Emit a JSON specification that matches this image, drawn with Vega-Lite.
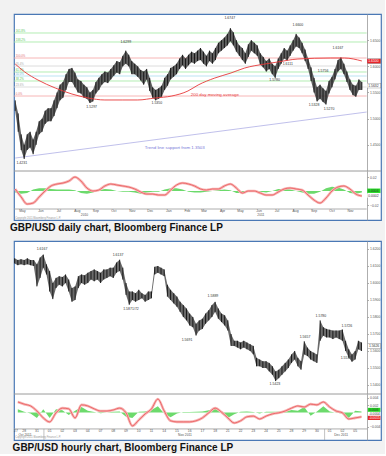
{
"$schema": "https://vega.github.io/schema/vega-lite/v6.json",
"background": "#f2f2f2",
"padding": {"left": 9, "top": 13, "right": 0, "bottom": 0},
"config": {
  "view": {"stroke": "#4a78b5", "strokeWidth": 1.2, "fill": "#ffffff"},
  "font": "Liberation Sans",
  "axis": {"grid": false, "labelFontSize": 3.4, "labelColor": "#555555", "labelFont": "Liberation Sans", "tickSize": 1.5, "tickColor": "#777777", "tickWidth": 0.6, "domainColor": "#999999", "domainWidth": 0.8, "labelPadding": 1, "labelOverlap": false, "labelBound": false, "labelFlush": false, "zindex": 1},
  "text": {"font": "Liberation Sans"}
},
"datasets": {
  "dprice": [
    {"d":"2010-05-03","lo":1.515,"hi":1.535},{"d":"2010-05-08","lo":1.475,"hi":1.51},{"d":"2010-05-13","lo":1.44,"hi":1.47},{"d":"2010-05-18","lo":1.423,"hi":1.45},
    {"d":"2010-05-23","lo":1.44,"hi":1.47},{"d":"2010-05-28","lo":1.445,"hi":1.475},{"d":"2010-06-02","lo":1.432,"hi":1.46},{"d":"2010-06-07","lo":1.45,"hi":1.475},
    {"d":"2010-06-12","lo":1.47,"hi":1.495},{"d":"2010-06-17","lo":1.475,"hi":1.5},{"d":"2010-06-22","lo":1.49,"hi":1.515},{"d":"2010-06-27","lo":1.495,"hi":1.52},
    {"d":"2010-07-02","lo":1.495,"hi":1.52},{"d":"2010-07-07","lo":1.505,"hi":1.535},{"d":"2010-07-12","lo":1.52,"hi":1.55},{"d":"2010-07-17","lo":1.535,"hi":1.565},
    {"d":"2010-07-22","lo":1.54,"hi":1.57},{"d":"2010-07-27","lo":1.555,"hi":1.585},{"d":"2010-08-01","lo":1.57,"hi":1.595},{"d":"2010-08-06","lo":1.57,"hi":1.597},
    {"d":"2010-08-11","lo":1.56,"hi":1.588},{"d":"2010-08-16","lo":1.55,"hi":1.575},{"d":"2010-08-21","lo":1.548,"hi":1.572},{"d":"2010-08-26","lo":1.54,"hi":1.565},
    {"d":"2010-08-31","lo":1.538,"hi":1.56},{"d":"2010-09-05","lo":1.53,"hi":1.55},{"d":"2010-09-10","lo":1.533,"hi":1.555},{"d":"2010-09-15","lo":1.548,"hi":1.57},
    {"d":"2010-09-20","lo":1.555,"hi":1.578},{"d":"2010-09-25","lo":1.565,"hi":1.585},{"d":"2010-09-30","lo":1.57,"hi":1.59},{"d":"2010-10-05","lo":1.568,"hi":1.588},
    {"d":"2010-10-10","lo":1.575,"hi":1.595},{"d":"2010-10-15","lo":1.582,"hi":1.602},{"d":"2010-10-20","lo":1.588,"hi":1.61},{"d":"2010-10-25","lo":1.585,"hi":1.608},
    {"d":"2010-10-30","lo":1.6,"hi":1.62},{"d":"2010-11-04","lo":1.605,"hi":1.63},{"d":"2010-11-09","lo":1.6,"hi":1.622},{"d":"2010-11-14","lo":1.585,"hi":1.61},
    {"d":"2010-11-19","lo":1.585,"hi":1.605},{"d":"2010-11-24","lo":1.58,"hi":1.6},{"d":"2010-11-29","lo":1.573,"hi":1.593},{"d":"2010-12-04","lo":1.565,"hi":1.59},
    {"d":"2010-12-09","lo":1.575,"hi":1.595},{"d":"2010-12-14","lo":1.553,"hi":1.578},{"d":"2010-12-19","lo":1.54,"hi":1.56},{"d":"2010-12-24","lo":1.535,"hi":1.555},
    {"d":"2010-12-29","lo":1.538,"hi":1.558},{"d":"2011-01-03","lo":1.542,"hi":1.563},{"d":"2011-01-08","lo":1.555,"hi":1.578},{"d":"2011-01-13","lo":1.563,"hi":1.585},
    {"d":"2011-01-18","lo":1.575,"hi":1.597},{"d":"2011-01-23","lo":1.58,"hi":1.6},{"d":"2011-01-28","lo":1.585,"hi":1.605},{"d":"2011-02-02","lo":1.595,"hi":1.615},
    {"d":"2011-02-07","lo":1.602,"hi":1.622},{"d":"2011-02-12","lo":1.595,"hi":1.615},{"d":"2011-02-17","lo":1.602,"hi":1.622},{"d":"2011-02-22","lo":1.608,"hi":1.628},
    {"d":"2011-02-27","lo":1.605,"hi":1.625},{"d":"2011-03-04","lo":1.61,"hi":1.63},{"d":"2011-03-09","lo":1.612,"hi":1.635},{"d":"2011-03-14","lo":1.605,"hi":1.628},
    {"d":"2011-03-19","lo":1.6,"hi":1.62},{"d":"2011-03-24","lo":1.61,"hi":1.63},{"d":"2011-03-29","lo":1.605,"hi":1.625},{"d":"2011-04-03","lo":1.612,"hi":1.635},
    {"d":"2011-04-08","lo":1.625,"hi":1.645},{"d":"2011-04-13","lo":1.63,"hi":1.65},{"d":"2011-04-18","lo":1.635,"hi":1.655},{"d":"2011-04-23","lo":1.64,"hi":1.662},
    {"d":"2011-04-28","lo":1.648,"hi":1.673},{"d":"2011-05-03","lo":1.64,"hi":1.665},{"d":"2011-05-08","lo":1.628,"hi":1.65},{"d":"2011-05-13","lo":1.62,"hi":1.64},
    {"d":"2011-05-18","lo":1.612,"hi":1.635},{"d":"2011-05-23","lo":1.605,"hi":1.625},{"d":"2011-05-28","lo":1.618,"hi":1.642},{"d":"2011-06-02","lo":1.63,"hi":1.65},
    {"d":"2011-06-07","lo":1.625,"hi":1.645},{"d":"2011-06-12","lo":1.62,"hi":1.64},{"d":"2011-06-17","lo":1.603,"hi":1.625},{"d":"2011-06-22","lo":1.598,"hi":1.618},
    {"d":"2011-06-27","lo":1.59,"hi":1.61},{"d":"2011-07-02","lo":1.595,"hi":1.615},{"d":"2011-07-07","lo":1.585,"hi":1.605},{"d":"2011-07-12","lo":1.578,"hi":1.6},
    {"d":"2011-07-17","lo":1.595,"hi":1.615},{"d":"2011-07-22","lo":1.605,"hi":1.625},{"d":"2011-07-27","lo":1.615,"hi":1.635},{"d":"2011-08-01","lo":1.611,"hi":1.63},
    {"d":"2011-08-06","lo":1.62,"hi":1.64},{"d":"2011-08-11","lo":1.63,"hi":1.65},{"d":"2011-08-16","lo":1.638,"hi":1.662},{"d":"2011-08-21","lo":1.635,"hi":1.655},
    {"d":"2011-08-26","lo":1.625,"hi":1.645},{"d":"2011-08-31","lo":1.61,"hi":1.632},{"d":"2011-09-05","lo":1.595,"hi":1.615},{"d":"2011-09-10","lo":1.572,"hi":1.598},
    {"d":"2011-09-15","lo":1.55,"hi":1.578},{"d":"2011-09-20","lo":1.533,"hi":1.56},{"d":"2011-09-25","lo":1.538,"hi":1.565},{"d":"2011-09-30","lo":1.532,"hi":1.558},
    {"d":"2011-10-05","lo":1.527,"hi":1.553},{"d":"2011-10-10","lo":1.548,"hi":1.572},{"d":"2011-10-15","lo":1.56,"hi":1.58},{"d":"2011-10-20","lo":1.575,"hi":1.595},
    {"d":"2011-10-25","lo":1.59,"hi":1.612},{"d":"2011-10-30","lo":1.595,"hi":1.617},{"d":"2011-11-04","lo":1.585,"hi":1.605},{"d":"2011-11-09","lo":1.57,"hi":1.59},
    {"d":"2011-11-14","lo":1.555,"hi":1.575},{"d":"2011-11-19","lo":1.545,"hi":1.565},{"d":"2011-11-24","lo":1.542,"hi":1.563},{"d":"2011-11-29","lo":1.555,"hi":1.575},
    {"d":"2011-12-04","lo":1.555,"hi":1.57}
  ],
  "dma": [
    {"d":"2010-05-03","p":1.6045},{"d":"2010-05-19","p":1.5892},{"d":"2010-06-10","p":1.5739},{"d":"2010-07-09","p":1.5586},
    {"d":"2010-08-06","p":1.5471},{"d":"2010-09-02","p":1.5395},{"d":"2010-09-30","p":1.5357},{"d":"2010-10-29","p":1.5357},
    {"d":"2010-11-24","p":1.5357},{"d":"2010-12-23","p":1.5395},{"d":"2011-01-20","p":1.5433},{"d":"2011-02-16","p":1.5529},
    {"d":"2011-03-05","p":1.5643},{"d":"2011-04-02","p":1.5777},{"d":"2011-04-29","p":1.5873},{"d":"2011-05-22","p":1.5968},
    {"d":"2011-06-25","p":1.6045},{"d":"2011-07-16","p":1.6083},{"d":"2011-08-19","p":1.614},{"d":"2011-10-13","p":1.6159},
    {"d":"2011-11-05","p":1.6159},{"d":"2011-12-04","p":1.6102}
  ],
  "fib": [
    {"p":1.6637,"lab":"161.8%","g":"key"},{"p":1.6465,"lab":"138.2%","g":"key"},{"p":1.6159,"lab":"100.0%","g":"base"},
    {"p":1.6006,"lab":"76.4%","g":"minor"},{"p":1.5892,"lab":"61.8%","g":"key"},{"p":1.5815,"lab":"50.0%","g":"mid"},
    {"p":1.572,"lab":"38.2%","g":"key"},{"p":1.5605,"lab":"23.6%","g":"minor"},{"p":1.5433,"lab":"0.0%","g":"base"}
  ],
  "trend": [{"d":"2010-05-03","p":1.4248,"d2":"2011-12-12","p2":1.5127}],
  "dlabels": [
    {"d":"2010-05-14","p":1.4153,"txt":"1.4231"},{"d":"2010-09-08","p":1.5223,"txt":"1.5297"},{"d":"2010-11-04","p":1.6465,"txt":"1.6299"},
    {"d":"2010-12-26","p":1.5299,"txt":"1.5350"},{"d":"2011-04-27","p":1.6924,"txt":"1.6747"},{"d":"2011-08-19","p":1.679,"txt":"1.6600"},
    {"d":"2011-08-02","p":1.6045,"txt":"1.6111"},{"d":"2011-07-11","p":1.5739,"txt":"1.5780"},{"d":"2011-09-30","p":1.5911,"txt":"1.5756"},
    {"d":"2011-09-15","p":1.5261,"txt":"1.5328"},{"d":"2011-10-10","p":1.5185,"txt":"1.5270"},{"d":"2011-10-25","p":1.635,"txt":"1.6167"}
  ],
  "dnotes": [
    {"d":"2011-04-02","p":1.5455,"txt":"200 day moving average","k":"ma"},
    {"d":"2011-01-25","p":1.4439,"txt":"Trend line support from 1.3503","k":"trend"}
  ],
  "dtags": [
    {"p":1.61,"txt":"1.6100","k":"ma"},
    {"p":1.5632,"txt":"1.5632","k":"last"}
  ],
  "dosc": [
    {"d":"2010-05-03","m":0.0029,"h":-0.002},{"d":"2010-05-13","m":-0.0086,"h":-0.004},{"d":"2010-05-23","m":-0.0186,"h":-0.003},
    {"d":"2010-06-02","m":-0.0172,"h":0.002},{"d":"2010-06-12","m":-0.0086,"h":0.004},{"d":"2010-06-22","m":0,"h":0.004},
    {"d":"2010-07-02","m":0.0072,"h":0.003},{"d":"2010-07-12","m":0.01,"h":0.002},{"d":"2010-07-22","m":0.0114,"h":0.002},
    {"d":"2010-08-01","m":0.0143,"h":0.002},{"d":"2010-08-11","m":0.02,"h":0.001},{"d":"2010-08-21","m":0.0143,"h":-0.003},
    {"d":"2010-08-31","m":0.0043,"h":-0.004},{"d":"2010-09-10","m":0,"h":-0.002},{"d":"2010-09-20","m":0.0014,"h":0.001},
    {"d":"2010-09-30","m":0.0072,"h":0.003},{"d":"2010-10-10","m":0.01,"h":0.002},{"d":"2010-10-20","m":0.0086,"h":0},
    {"d":"2010-10-30","m":0.0072,"h":-0.001},{"d":"2010-11-09","m":0.0057,"h":-0.001},{"d":"2010-11-19","m":0.0029,"h":-0.002},
    {"d":"2010-11-29","m":-0.0014,"h":-0.004},{"d":"2010-12-09","m":-0.0043,"h":-0.002},{"d":"2010-12-19","m":-0.0043,"h":-0.001},
    {"d":"2010-12-29","m":-0.0057,"h":-0.001},{"d":"2011-01-08","m":-0.0057,"h":0.002},{"d":"2011-01-18","m":0.0014,"h":0.004},
    {"d":"2011-01-28","m":0.0086,"h":0.004},{"d":"2011-02-07","m":0.0114,"h":0.002},{"d":"2011-02-17","m":0.01,"h":-0.001},
    {"d":"2011-02-27","m":0.0072,"h":-0.002},{"d":"2011-03-09","m":0.0029,"h":-0.002},{"d":"2011-03-19","m":0.0014,"h":-0.001},
    {"d":"2011-03-29","m":0.0029,"h":0},{"d":"2011-04-08","m":0.0029,"h":0.001},{"d":"2011-04-18","m":0.0072,"h":0.002},
    {"d":"2011-04-28","m":0.01,"h":0.001},{"d":"2011-05-08","m":0.0043,"h":-0.003},{"d":"2011-05-18","m":-0.0029,"h":-0.003},
    {"d":"2011-05-28","m":0,"h":0},{"d":"2011-06-07","m":0,"h":0},{"d":"2011-06-17","m":-0.0029,"h":-0.001},
    {"d":"2011-06-27","m":-0.0057,"h":-0.002},{"d":"2011-07-07","m":-0.0057,"h":0},{"d":"2011-07-17","m":-0.0014,"h":0.003},
    {"d":"2011-07-27","m":0.0029,"h":0.003},{"d":"2011-08-06","m":0.0043,"h":0.002},{"d":"2011-08-16","m":0.0029,"h":0},
    {"d":"2011-08-26","m":0.0014,"h":-0.002},{"d":"2011-09-05","m":-0.0057,"h":-0.004},{"d":"2011-09-15","m":-0.0129,"h":-0.004},
    {"d":"2011-09-25","m":-0.0172,"h":-0.001},{"d":"2011-10-05","m":-0.01,"h":0.004},{"d":"2011-10-15","m":0,"h":0.006},
    {"d":"2011-10-25","m":0.0057,"h":0.005},{"d":"2011-11-04","m":0.0072,"h":0.002},{"d":"2011-11-14","m":0.0029,"h":-0.003},
    {"d":"2011-11-24","m":-0.0043,"h":-0.004},{"d":"2011-12-04","m":-0.0072,"h":-0.002}
  ],
  "dmonths": [
    {"d":"2010-05-15","txt":"May"},{"d":"2010-06-15","txt":"Jun"},{"d":"2010-07-15","txt":"Jul"},{"d":"2010-08-15","txt":"Aug"},
    {"d":"2010-09-15","txt":"Sep"},{"d":"2010-10-15","txt":"Oct"},{"d":"2010-11-15","txt":"Nov"},{"d":"2010-12-15","txt":"Dec"},
    {"d":"2011-01-15","txt":"Jan"},{"d":"2011-02-15","txt":"Feb"},{"d":"2011-03-15","txt":"Mar"},{"d":"2011-04-15","txt":"Apr"},
    {"d":"2011-05-15","txt":"May"},{"d":"2011-06-15","txt":"Jun"},{"d":"2011-07-15","txt":"Jul"},{"d":"2011-08-15","txt":"Aug"},
    {"d":"2011-09-15","txt":"Sep"},{"d":"2011-10-15","txt":"Oct"},{"d":"2011-11-15","txt":"Nov"}
  ],
  "dosctext": [
    {"d":"2010-08-27","m":-0.0343,"txt":"2010","k":"year"},
    {"d":"2011-06-18","m":-0.0343,"txt":"2011","k":"year"},
    {"d":"2010-05-03","m":-0.0385,"txt":"Copyright 2011 Bloomberg Finance L.P.","k":"copy"}
  ],
  "dosctags": [
    {"p":0.0004,"txt":"0.0004","k":"hist"},
    {"p":-0.0064,"txt":"0.0002","k":"sig"}
  ],
  "hprice": [
    {"t":0.25,"lo":1.6115,"hi":1.6145},{"t":0.5,"lo":1.6105,"hi":1.6135},{"t":0.75,"lo":1.611,"hi":1.614},{"t":1.0,"lo":1.6105,"hi":1.6135},
    {"t":1.25,"lo":1.611,"hi":1.6145},{"t":1.5,"lo":1.6105,"hi":1.6135},{"t":1.75,"lo":1.61,"hi":1.6135},{"t":2.0,"lo":1.598,"hi":1.611},
    {"t":2.25,"lo":1.603,"hi":1.615},{"t":2.5,"lo":1.609,"hi":1.6167},{"t":2.75,"lo":1.605,"hi":1.611},{"t":3.0,"lo":1.595,"hi":1.607},
    {"t":3.25,"lo":1.5905,"hi":1.6},{"t":3.5,"lo":1.597,"hi":1.603},{"t":3.75,"lo":1.599,"hi":1.604},{"t":4.0,"lo":1.598,"hi":1.6035},
    {"t":4.25,"lo":1.6,"hi":1.605},{"t":4.5,"lo":1.595,"hi":1.602},{"t":4.75,"lo":1.589,"hi":1.597},{"t":5.0,"lo":1.59,"hi":1.598},
    {"t":5.25,"lo":1.597,"hi":1.604},{"t":5.5,"lo":1.6,"hi":1.605},{"t":5.75,"lo":1.599,"hi":1.6045},{"t":6.0,"lo":1.6,"hi":1.606},
    {"t":6.25,"lo":1.602,"hi":1.607},{"t":6.5,"lo":1.601,"hi":1.608},{"t":6.75,"lo":1.602,"hi":1.607},{"t":7.0,"lo":1.6,"hi":1.606},
    {"t":7.25,"lo":1.602,"hi":1.608},{"t":7.5,"lo":1.603,"hi":1.608},{"t":7.75,"lo":1.604,"hi":1.609},{"t":8.0,"lo":1.603,"hi":1.609},
    {"t":8.25,"lo":1.606,"hi":1.612},{"t":8.5,"lo":1.607,"hi":1.6137},{"t":8.75,"lo":1.602,"hi":1.609},{"t":9.0,"lo":1.593,"hi":1.6},
    {"t":9.25,"lo":1.5872,"hi":1.595},{"t":9.5,"lo":1.59,"hi":1.595},{"t":9.75,"lo":1.589,"hi":1.594},{"t":10.0,"lo":1.59,"hi":1.596},
    {"t":10.25,"lo":1.591,"hi":1.594},{"t":10.5,"lo":1.589,"hi":1.593},{"t":10.75,"lo":1.59,"hi":1.595},{"t":11.0,"lo":1.591,"hi":1.595},
    {"t":11.25,"lo":1.605,"hi":1.6095},{"t":11.5,"lo":1.606,"hi":1.61},{"t":11.75,"lo":1.605,"hi":1.609},{"t":12.0,"lo":1.604,"hi":1.608},
    {"t":12.25,"lo":1.592,"hi":1.599},{"t":12.5,"lo":1.59,"hi":1.596},{"t":12.75,"lo":1.588,"hi":1.594},{"t":13.0,"lo":1.586,"hi":1.592},
    {"t":13.25,"lo":1.583,"hi":1.589},{"t":13.5,"lo":1.58,"hi":1.587},{"t":13.75,"lo":1.578,"hi":1.585},{"t":14.0,"lo":1.575,"hi":1.582},
    {"t":14.25,"lo":1.574,"hi":1.58},{"t":14.5,"lo":1.5691,"hi":1.576},{"t":14.75,"lo":1.572,"hi":1.578},{"t":15.0,"lo":1.573,"hi":1.579},
    {"t":15.25,"lo":1.576,"hi":1.582},{"t":15.5,"lo":1.578,"hi":1.584},{"t":15.75,"lo":1.58,"hi":1.587},{"t":16.0,"lo":1.583,"hi":1.5889},
    {"t":16.25,"lo":1.579,"hi":1.585},{"t":16.5,"lo":1.577,"hi":1.582},{"t":16.75,"lo":1.575,"hi":1.581},{"t":17.0,"lo":1.572,"hi":1.578},
    {"t":17.25,"lo":1.563,"hi":1.57},{"t":17.5,"lo":1.563,"hi":1.566},{"t":17.75,"lo":1.562,"hi":1.566},{"t":18.0,"lo":1.561,"hi":1.565},
    {"t":18.25,"lo":1.562,"hi":1.566},{"t":18.5,"lo":1.561,"hi":1.565},{"t":18.75,"lo":1.56,"hi":1.564},{"t":19.0,"lo":1.558,"hi":1.563},
    {"t":19.25,"lo":1.551,"hi":1.556},{"t":19.5,"lo":1.551,"hi":1.555},{"t":19.75,"lo":1.55,"hi":1.554},{"t":20.0,"lo":1.55,"hi":1.554},
    {"t":20.25,"lo":1.548,"hi":1.553},{"t":20.5,"lo":1.546,"hi":1.551},{"t":20.75,"lo":1.5423,"hi":1.548},{"t":21.0,"lo":1.544,"hi":1.549},
    {"t":21.25,"lo":1.546,"hi":1.551},{"t":21.5,"lo":1.548,"hi":1.553},{"t":21.75,"lo":1.55,"hi":1.555},{"t":22.0,"lo":1.553,"hi":1.558},
    {"t":22.25,"lo":1.555,"hi":1.56},{"t":22.5,"lo":1.551,"hi":1.556},{"t":22.75,"lo":1.549,"hi":1.554},{"t":23.0,"lo":1.558,"hi":1.5657},
    {"t":23.25,"lo":1.557,"hi":1.562},{"t":23.5,"lo":1.555,"hi":1.56},{"t":23.75,"lo":1.554,"hi":1.559},{"t":24.0,"lo":1.553,"hi":1.558},
    {"t":24.25,"lo":1.566,"hi":1.578},{"t":24.5,"lo":1.569,"hi":1.574},{"t":24.75,"lo":1.568,"hi":1.573},{"t":25.0,"lo":1.568,"hi":1.5725},
    {"t":25.25,"lo":1.567,"hi":1.572},{"t":25.5,"lo":1.568,"hi":1.572},{"t":25.75,"lo":1.567,"hi":1.572},{"t":26.0,"lo":1.566,"hi":1.5726},
    {"t":26.25,"lo":1.56,"hi":1.566},{"t":26.5,"lo":1.556,"hi":1.561},{"t":26.75,"lo":1.5537,"hi":1.558},{"t":27.0,"lo":1.555,"hi":1.56},
    {"t":27.25,"lo":1.561,"hi":1.566},{"t":27.5,"lo":1.56,"hi":1.565}
  ],
  "hlabels": [
    {"t":2.4,"p":1.62,"txt":"1.6167"},{"t":8.37,"p":1.6164,"txt":"1.6137"},{"t":9.39,"p":1.5847,"txt":"1.5871/72"},
    {"t":13.79,"p":1.5665,"txt":"1.5691"},{"t":15.83,"p":1.5923,"txt":"1.5889"},{"t":24.31,"p":1.5806,"txt":"1.5780"},
    {"t":26.35,"p":1.5747,"txt":"1.5726"},{"t":23.06,"p":1.5682,"txt":"1.5657"},{"t":20.7,"p":1.5406,"txt":"1.5423"},
    {"t":26.28,"p":1.5559,"txt":"1.5537"}
  ],
  "htags": [{"p":1.5629,"txt":"1.5626","k":"last"}],
  "hosc": [
    {"t":0.5,"m":0.0029,"h":0.0009},{"t":1.0,"m":0.0023,"h":0.0002},{"t":1.5,"m":0.0018,"h":-0.0003},{"t":2.0,"m":0.0004,"h":-0.0015},
    {"t":2.5,"m":-0.0015,"h":0.0009},{"t":3.0,"m":-0.0026,"h":-0.0015},{"t":3.5,"m":-0.0001,"h":0.0009},{"t":4.0,"m":0.0012,"h":0.0006},
    {"t":4.5,"m":0.001,"h":-0.0007},{"t":5.0,"m":-0.0015,"h":0.0005},{"t":5.5,"m":0.0021,"h":0.0015},{"t":6.0,"m":0.0018,"h":0.0005},
    {"t":6.5,"m":0.001,"h":0.0001},{"t":7.0,"m":0.0004,"h":-0.0002},{"t":7.5,"m":0.0004,"h":0},{"t":8.0,"m":0.0007,"h":0.0002},
    {"t":8.5,"m":0.0012,"h":0.0003},{"t":9.0,"m":-0.0001,"h":-0.0012},{"t":9.5,"m":-0.0037,"h":-0.0015},{"t":10.0,"m":-0.0021,"h":0.0002},
    {"t":10.5,"m":-0.0004,"h":0.0003},{"t":11.0,"m":0.001,"h":0.0007},{"t":11.5,"m":0.0037,"h":0.0017},{"t":12.0,"m":0.0004,"h":-0.0003},
    {"t":12.5,"m":-0.0023,"h":-0.0013},{"t":13.0,"m":-0.0026,"h":-0.0003},{"t":13.5,"m":-0.0026,"h":0.0001},{"t":14.0,"m":-0.0026,"h":0.0001},
    {"t":14.5,"m":-0.0023,"h":0.0002},{"t":15.0,"m":-0.0015,"h":0.0003},{"t":15.5,"m":-0.0001,"h":0.0006},{"t":16.0,"m":0.0012,"h":0.0011},
    {"t":16.5,"m":0.0001,"h":-0.0002},{"t":17.0,"m":-0.0015,"h":-0.0015},{"t":17.5,"m":-0.0029,"h":-0.0005},{"t":18.0,"m":-0.0023,"h":0.0002},
    {"t":18.5,"m":-0.0012,"h":0.0003},{"t":19.0,"m":-0.001,"h":0.0001},{"t":19.5,"m":-0.0018,"h":-0.0003},{"t":20.0,"m":-0.001,"h":0.0002},
    {"t":20.5,"m":-0.0004,"h":0.0002},{"t":21.0,"m":-0.0001,"h":0.0002},{"t":21.5,"m":0.0004,"h":0.0002},{"t":22.0,"m":0.0012,"h":0.0007},
    {"t":22.5,"m":0.0018,"h":0.0005},{"t":23.0,"m":0.0015,"h":0.0015},{"t":23.5,"m":0.0023,"h":-0.0009},{"t":24.0,"m":0.0021,"h":0.0003},
    {"t":24.5,"m":0.0029,"h":0.0017},{"t":25.0,"m":0.0015,"h":0.0003},{"t":25.5,"m":0.0004,"h":-0.0001},{"t":26.0,"m":-0.0001,"h":-0.0003},
    {"t":26.5,"m":-0.0018,"h":-0.0015},{"t":27.0,"m":-0.0015,"h":0.0005},{"t":27.5,"m":-0.0012,"h":0.0003}
  ],
  "hdays": [
    {"t":0.35,"txt":"27"},{"t":1,"txt":"28"},{"t":2,"txt":"31"},{"t":3,"txt":"01"},{"t":4,"txt":"02"},{"t":5,"txt":"03"},{"t":6,"txt":"04"},
    {"t":7,"txt":"07"},{"t":8,"txt":"08"},{"t":9,"txt":"09"},{"t":10,"txt":"10"},{"t":11,"txt":"11"},{"t":12,"txt":"14"},{"t":13,"txt":"15"},
    {"t":14,"txt":"16"},{"t":15,"txt":"17"},{"t":16,"txt":"18"},{"t":17,"txt":"21"},{"t":18,"txt":"22"},{"t":19,"txt":"23"},{"t":20,"txt":"24"},
    {"t":21,"txt":"25"},{"t":22,"txt":"28"},{"t":23,"txt":"29"},{"t":24,"txt":"30"},{"t":25,"txt":"01"},{"t":26,"txt":"02"},{"t":27,"txt":"05"}
  ],
  "hosctext": [
    {"t":1.06,"m":-0.0062,"txt":"Oct 2011","k":"month"},
    {"t":13.63,"m":-0.0062,"txt":"Nov 2011","k":"month"},
    {"t":25.9,"m":-0.0062,"txt":"Dec 2011","k":"month"},
    {"t":0.3,"m":-0.007,"txt":"Copyright 2011 Bloomberg Finance L.P.","k":"copy"}
  ],
  "hoscsep": [{"t":2.55},{"t":24.6}],
  "hosctags": [
    {"p":0.0007,"txt":"0.0006","k":"hist"},
    {"p":-0.0004,"txt":"-0.0004","k":"sig"},
    {"p":-0.0015,"txt":"-0.0015","k":"neg"}
  ],
  "edge": [{"edge":"top"}]
},
"spacing": 6,
"vconcat": [
  {"width": 367, "height": 206,
   "title": {"text": "GBP/USD daily chart, Bloomberg Finance LP", "orient": "bottom", "anchor": "start", "fontSize": 10, "fontWeight": "bold", "font": "Liberation Sans", "color": "#111111", "offset": 3, "baseline": "top"},
   "resolve": {"scale": {"y": "independent", "color": "independent"}, "axis": {"y": "independent"}},
   "layer": [
    {"data": {"name": "fib"}, "mark": {"type": "rule", "strokeWidth": 0.8},
     "encoding": {
       "x": {"datum": {"year":2010,"month":5,"date":1}, "type": "temporal", "scale": {"domain":[{"year":2010,"month":5,"date":1},{"year":2012,"month":1,"date":5}],"nice":false}, "axis": null, "title": null},
       "x2": {"datum": {"year":2011,"month":12,"date":12}},
       "y": {"field": "p", "type": "quantitative", "scale": {"domain":[1.4,1.7],"range":[157,0],"zero":false,"nice":false}, "axis": null, "title": null},
       "color": {"field": "g", "type": "nominal", "scale": {"domain":["base","minor","key","mid"],"range":["#f5a3a3","#d4d4d4","#9fe89f","#a9dcef"]}, "legend": null}}},
    {"data": {"name": "fib"}, "mark": {"type": "text", "align": "left", "baseline": "bottom", "fontSize": 2.8, "dy": -0.3},
     "encoding": {
       "x": {"datum": {"year":2010,"month":5,"date":4}, "type": "temporal", "axis": null, "title": null},
       "y": {"field": "p", "type": "quantitative", "scale": {"domain":[1.4,1.7],"range":[157,0],"zero":false,"nice":false}, "axis": null, "title": null},
       "text": {"field": "lab"},
       "color": {"field": "g", "type": "nominal", "scale": {"domain":["base","minor","key","mid"],"range":["#e07070","#aaaaaa","#55c455","#6fb8d8"]}, "legend": null}}},
    {"data": {"name": "trend"}, "mark": {"type": "rule", "color": "#b0b0e6", "strokeWidth": 0.8},
     "encoding": {
       "x": {"field": "d", "type": "temporal", "axis": null, "title": null},
       "x2": {"field": "d2"},
       "y": {"field": "p", "type": "quantitative", "scale": {"domain":[1.4,1.7],"range":[157,0],"zero":false,"nice":false}, "axis": null, "title": null},
       "y2": {"field": "p2"}}},
    {"data": {"name": "dprice"}, "mark": {"type": "area", "color": "#3a3a3a", "opacity": 0.8},
     "encoding": {
       "x": {"field": "d", "type": "temporal", "axis": null, "title": null},
       "y": {"field": "lo", "type": "quantitative", "scale": {"domain":[1.4,1.7],"range":[157,0],"zero":false,"nice":false}, "axis": null, "title": null},
       "y2": {"field": "hi"}}},
    {"data": {"name": "dprice"}, "mark": {"type": "rule", "color": "#111111", "strokeWidth": 0.9},
     "encoding": {
       "x": {"field": "d", "type": "temporal", "axis": null, "title": null},
       "y": {"field": "lo", "type": "quantitative", "scale": {"domain":[1.4,1.7],"range":[157,0],"zero":false,"nice":false}, "title": null,
             "axis": {"orient": "right", "offset": -14, "values": [1.45,1.5,1.55,1.6,1.65], "format": ".4f"}},
       "y2": {"field": "hi"}}},
    {"data": {"name": "dma"}, "mark": {"type": "line", "color": "#e8393a", "strokeWidth": 0.9, "interpolate": "monotone"},
     "encoding": {
       "x": {"field": "d", "type": "temporal", "axis": null, "title": null},
       "y": {"field": "p", "type": "quantitative", "scale": {"domain":[1.4,1.7],"range":[157,0],"zero":false,"nice":false}, "axis": null, "title": null}}},
    {"data": {"name": "dlabels"}, "mark": {"type": "text", "fontSize": 3.5, "color": "#333333", "baseline": "middle"},
     "encoding": {
       "x": {"field": "d", "type": "temporal", "axis": null, "title": null},
       "y": {"field": "p", "type": "quantitative", "scale": {"domain":[1.4,1.7],"range":[157,0],"zero":false,"nice":false}, "axis": null, "title": null},
       "text": {"field": "txt"}}},
    {"data": {"name": "dnotes"}, "mark": {"type": "text", "fontSize": 4.4, "baseline": "middle"},
     "encoding": {
       "x": {"field": "d", "type": "temporal", "axis": null, "title": null},
       "y": {"field": "p", "type": "quantitative", "scale": {"domain":[1.4,1.7],"range":[157,0],"zero":false,"nice":false}, "axis": null, "title": null},
       "text": {"field": "txt"},
       "color": {"field": "k", "type": "nominal", "scale": {"domain":["ma","trend"],"range":["#e8393a","#7878d8"]}, "legend": null}}},
    {"data": {"name": "dtags"}, "mark": {"type": "rule", "strokeWidth": 5.2, "strokeCap": "butt", "color": "#888888"},
     "encoding": {
       "x": {"datum": {"year":2011,"month":12,"date":13}, "type": "temporal", "axis": null, "title": null},
       "x2": {"datum": {"year":2012,"month":1,"date":5}},
       "y": {"field": "p", "type": "quantitative", "scale": {"domain":[1.4,1.7],"range":[157,0],"zero":false,"nice":false}, "axis": null, "title": null}}},
    {"data": {"name": "dtags"}, "mark": {"type": "rule", "strokeWidth": 4.4, "strokeCap": "butt"},
     "encoding": {
       "x": {"datum": {"year":2011,"month":12,"date":13}, "type": "temporal", "axis": null, "title": null},
       "x2": {"datum": {"year":2012,"month":1,"date":4}},
       "y": {"field": "p", "type": "quantitative", "scale": {"domain":[1.4,1.7],"range":[157,0],"zero":false,"nice":false}, "axis": null, "title": null},
       "color": {"field": "k", "type": "nominal", "scale": {"domain":["ma","last"],"range":["#e8262a","#ffffff"]}, "legend": null}}},
    {"data": {"name": "dtags"}, "mark": {"type": "text", "fontSize": 3.4, "align": "left", "baseline": "middle", "dx": 1},
     "encoding": {
       "x": {"datum": {"year":2011,"month":12,"date":13}, "type": "temporal", "axis": null, "title": null},
       "y": {"field": "p", "type": "quantitative", "scale": {"domain":[1.4,1.7],"range":[157,0],"zero":false,"nice":false}, "axis": null, "title": null},
       "text": {"field": "txt"},
       "color": {"field": "k", "type": "nominal", "scale": {"domain":["ma","last"],"range":["#ffffff","#333333"]}, "legend": null}}},
    {"data": {"name": "dosc"}, "mark": {"type": "area", "color": "#5cd65c", "opacity": 0.9},
     "encoding": {
       "x": {"field": "d", "type": "temporal", "axis": null, "title": null},
       "y": {"field": "h", "type": "quantitative", "scale": {"domain":[-0.0414,0.0286],"range":[206,157],"zero":false,"nice":false}, "title": null,
             "axis": {"orient": "right", "offset": -14, "values": [0.02,-0.02], "format": ".2f"}},
       "y2": {"datum": 0}}},
    {"data": {"name": "dosc"}, "mark": {"type": "line", "color": "#f7b4b4", "strokeWidth": 2.6, "interpolate": "monotone"},
     "encoding": {
       "x": {"field": "d", "type": "temporal", "axis": null, "title": null},
       "y": {"field": "m", "type": "quantitative", "scale": {"domain":[-0.0414,0.0286],"range":[206,157],"zero":false,"nice":false}, "axis": null, "title": null}}},
    {"data": {"name": "dosc"}, "mark": {"type": "line", "color": "#e6494a", "strokeWidth": 0.7, "interpolate": "monotone"},
     "encoding": {
       "x": {"field": "d", "type": "temporal", "axis": null, "title": null},
       "y": {"field": "m", "type": "quantitative", "scale": {"domain":[-0.0414,0.0286],"range":[206,157],"zero":false,"nice":false}, "axis": null, "title": null}}},
    {"data": {"name": "edge"}, "mark": {"type": "rule", "color": "#9a9a9a", "strokeWidth": 1},
     "encoding": {
       "y": {"datum": 0.0286, "type": "quantitative", "scale": {"domain":[-0.0414,0.0286],"range":[206,157],"zero":false,"nice":false}, "axis": null, "title": null}}},
    {"data": {"name": "edge"}, "mark": {"type": "rule", "color": "#999999", "strokeWidth": 0.8},
     "encoding": {
       "x": {"datum": {"year":2010,"month":5,"date":1}, "type": "temporal", "axis": null, "title": null},
       "x2": {"datum": {"year":2011,"month":12,"date":12}},
       "y": {"datum": -0.0257, "type": "quantitative", "scale": {"domain":[-0.0414,0.0286],"range":[206,157],"zero":false,"nice":false}, "axis": null, "title": null}}},
    {"data": {"name": "dmonths"}, "mark": {"type": "text", "fontSize": 3.4, "color": "#555555", "baseline": "middle"},
     "encoding": {
       "x": {"field": "d", "type": "temporal", "axis": null, "title": null},
       "y": {"datum": -0.0287, "type": "quantitative", "scale": {"domain":[-0.0414,0.0286],"range":[206,157],"zero":false,"nice":false}, "axis": null, "title": null},
       "text": {"field": "txt"}}},
    {"data": {"name": "dosctext"}, "transform": [{"filter": "datum.k == 'year'"}], "mark": {"type": "text", "fontSize": 3.3, "color": "#555555", "baseline": "middle"},
     "encoding": {
       "x": {"field": "d", "type": "temporal", "axis": null, "title": null},
       "y": {"field": "m", "type": "quantitative", "scale": {"domain":[-0.0414,0.0286],"range":[206,157],"zero":false,"nice":false}, "axis": null, "title": null},
       "text": {"field": "txt"}}},
    {"data": {"name": "dosctext"}, "transform": [{"filter": "datum.k == 'copy'"}], "mark": {"type": "text", "fontSize": 2.6, "color": "#999999", "baseline": "middle", "align": "left"},
     "encoding": {
       "x": {"field": "d", "type": "temporal", "axis": null, "title": null},
       "y": {"field": "m", "type": "quantitative", "scale": {"domain":[-0.0414,0.0286],"range":[206,157],"zero":false,"nice":false}, "axis": null, "title": null},
       "text": {"field": "txt"}}},
    {"data": {"name": "dosctags"}, "mark": {"type": "rule", "strokeWidth": 4.4, "strokeCap": "butt"},
     "encoding": {
       "x": {"datum": {"year":2011,"month":12,"date":13}, "type": "temporal", "axis": null, "title": null},
       "x2": {"datum": {"year":2012,"month":1,"date":4}},
       "y": {"field": "p", "type": "quantitative", "scale": {"domain":[-0.0414,0.0286],"range":[206,157],"zero":false,"nice":false}, "axis": null, "title": null},
       "color": {"field": "k", "type": "nominal", "scale": {"domain":["hist","sig"],"range":["#22dd22","#ffffff"]}, "legend": null}}},
    {"data": {"name": "dosctags"}, "mark": {"type": "text", "fontSize": 3.4, "align": "left", "baseline": "middle", "dx": 1, "color": "#333333"},
     "encoding": {
       "x": {"datum": {"year":2011,"month":12,"date":13}, "type": "temporal", "axis": null, "title": null},
       "y": {"field": "p", "type": "quantitative", "scale": {"domain":[-0.0414,0.0286],"range":[206,157],"zero":false,"nice":false}, "axis": null, "title": null},
       "text": {"field": "txt"}}}
   ]},
  {"width": 367, "height": 199,
   "title": {"text": "GBP/USD hourly chart, Bloomberg Finance LP", "orient": "bottom", "anchor": "start", "fontSize": 10, "fontWeight": "bold", "font": "Liberation Sans", "color": "#111111", "offset": 3, "baseline": "top"},
   "resolve": {"scale": {"y": "independent", "color": "independent"}, "axis": {"y": "independent"}},
   "layer": [
    {"data": {"name": "hprice"}, "mark": {"type": "area", "color": "#3a3a3a", "opacity": 0.75},
     "encoding": {
       "x": {"field": "t", "type": "quantitative", "scale": {"domain":[0.2,29.03],"zero":false,"nice":false}, "axis": null, "title": null},
       "y": {"field": "lo", "type": "quantitative", "scale": {"domain":[1.5347,1.6247],"range":[153,0],"zero":false,"nice":false}, "axis": null, "title": null},
       "y2": {"field": "hi"}}},
    {"data": {"name": "hprice"}, "mark": {"type": "rule", "color": "#111111", "strokeWidth": 0.9},
     "encoding": {
       "x": {"field": "t", "type": "quantitative", "axis": null, "title": null},
       "y": {"field": "lo", "type": "quantitative", "scale": {"domain":[1.5347,1.6247],"range":[153,0],"zero":false,"nice":false}, "title": null,
             "axis": {"orient": "right", "offset": -14, "values": [1.54,1.55,1.56,1.57,1.58,1.59,1.6,1.61,1.62], "format": ".4f"}},
       "y2": {"field": "hi"}}},
    {"data": {"name": "hlabels"}, "mark": {"type": "text", "fontSize": 3.5, "color": "#333333", "baseline": "middle"},
     "encoding": {
       "x": {"field": "t", "type": "quantitative", "axis": null, "title": null},
       "y": {"field": "p", "type": "quantitative", "scale": {"domain":[1.5347,1.6247],"range":[153,0],"zero":false,"nice":false}, "axis": null, "title": null},
       "text": {"field": "txt"}}},
    {"data": {"name": "htags"}, "mark": {"type": "rule", "strokeWidth": 5.2, "strokeCap": "butt", "color": "#888888"},
     "encoding": {
       "x": {"datum": 28.0, "type": "quantitative", "axis": null, "title": null},
       "x2": {"datum": 29.03},
       "y": {"field": "p", "type": "quantitative", "scale": {"domain":[1.5347,1.6247],"range":[153,0],"zero":false,"nice":false}, "axis": null, "title": null}}},
    {"data": {"name": "htags"}, "mark": {"type": "rule", "strokeWidth": 4.4, "strokeCap": "butt", "color": "#ffffff"},
     "encoding": {
       "x": {"datum": 28.0, "type": "quantitative", "axis": null, "title": null},
       "x2": {"datum": 28.98},
       "y": {"field": "p", "type": "quantitative", "scale": {"domain":[1.5347,1.6247],"range":[153,0],"zero":false,"nice":false}, "axis": null, "title": null}}},
    {"data": {"name": "htags"}, "mark": {"type": "text", "fontSize": 3.4, "align": "left", "baseline": "middle", "dx": 1, "color": "#333333"},
     "encoding": {
       "x": {"datum": 28.0, "type": "quantitative", "axis": null, "title": null},
       "y": {"field": "p", "type": "quantitative", "scale": {"domain":[1.5347,1.6247],"range":[153,0],"zero":false,"nice":false}, "axis": null, "title": null},
       "text": {"field": "txt"}}},
    {"data": {"name": "hosc"}, "mark": {"type": "area", "color": "#5cd65c", "opacity": 0.9},
     "encoding": {
       "x": {"field": "t", "type": "quantitative", "axis": null, "title": null},
       "y": {"field": "h", "type": "quantitative", "scale": {"domain":[-0.0076,0.0051],"range":[199,153],"zero":false,"nice":false}, "title": null,
             "axis": {"orient": "right", "offset": -14, "values": [0.004,0.002,-0.004], "format": ".3f"}},
       "y2": {"datum": 0}}},
    {"data": {"name": "hosc"}, "mark": {"type": "line", "color": "#f7b4b4", "strokeWidth": 2.6, "interpolate": "monotone"},
     "encoding": {
       "x": {"field": "t", "type": "quantitative", "axis": null, "title": null},
       "y": {"field": "m", "type": "quantitative", "scale": {"domain":[-0.0076,0.0051],"range":[199,153],"zero":false,"nice":false}, "axis": null, "title": null}}},
    {"data": {"name": "hosc"}, "mark": {"type": "line", "color": "#e6494a", "strokeWidth": 0.7, "interpolate": "monotone"},
     "encoding": {
       "x": {"field": "t", "type": "quantitative", "axis": null, "title": null},
       "y": {"field": "m", "type": "quantitative", "scale": {"domain":[-0.0076,0.0051],"range":[199,153],"zero":false,"nice":false}, "axis": null, "title": null}}},
    {"data": {"name": "edge"}, "mark": {"type": "rule", "color": "#9a9a9a", "strokeWidth": 1},
     "encoding": {
       "y": {"datum": 0.0051, "type": "quantitative", "scale": {"domain":[-0.0076,0.0051],"range":[199,153],"zero":false,"nice":false}, "axis": null, "title": null}}},
    {"data": {"name": "edge"}, "mark": {"type": "rule", "color": "#999999", "strokeWidth": 0.8},
     "encoding": {
       "x": {"datum": 0.2, "type": "quantitative", "axis": null, "title": null},
       "x2": {"datum": 27.95},
       "y": {"datum": -0.00455, "type": "quantitative", "scale": {"domain":[-0.0076,0.0051],"range":[199,153],"zero":false,"nice":false}, "axis": null, "title": null}}},
    {"data": {"name": "hoscsep"}, "mark": {"type": "rule", "color": "#999999", "strokeWidth": 0.6},
     "encoding": {
       "x": {"field": "t", "type": "quantitative", "axis": null, "title": null},
       "y": {"datum": -0.00455, "type": "quantitative", "scale": {"domain":[-0.0076,0.0051],"range":[199,153],"zero":false,"nice":false}, "axis": null, "title": null},
       "y2": {"datum": -0.0076}}},
    {"data": {"name": "hdays"}, "mark": {"type": "text", "fontSize": 3.4, "color": "#555555", "baseline": "middle"},
     "encoding": {
       "x": {"field": "t", "type": "quantitative", "axis": null, "title": null},
       "y": {"datum": -0.0051, "type": "quantitative", "scale": {"domain":[-0.0076,0.0051],"range":[199,153],"zero":false,"nice":false}, "axis": null, "title": null},
       "text": {"field": "txt"}}},
    {"data": {"name": "hosctext"}, "transform": [{"filter": "datum.k == 'month'"}], "mark": {"type": "text", "fontSize": 3.3, "color": "#555555", "baseline": "middle"},
     "encoding": {
       "x": {"field": "t", "type": "quantitative", "axis": null, "title": null},
       "y": {"field": "m", "type": "quantitative", "scale": {"domain":[-0.0076,0.0051],"range":[199,153],"zero":false,"nice":false}, "axis": null, "title": null},
       "text": {"field": "txt"}}},
    {"data": {"name": "hosctext"}, "transform": [{"filter": "datum.k == 'copy'"}], "mark": {"type": "text", "fontSize": 2.6, "color": "#999999", "baseline": "middle", "align": "left"},
     "encoding": {
       "x": {"field": "t", "type": "quantitative", "axis": null, "title": null},
       "y": {"field": "m", "type": "quantitative", "scale": {"domain":[-0.0076,0.0051],"range":[199,153],"zero":false,"nice":false}, "axis": null, "title": null},
       "text": {"field": "txt"}}},
    {"data": {"name": "hosctags"}, "mark": {"type": "rule", "strokeWidth": 4.2, "strokeCap": "butt"},
     "encoding": {
       "x": {"datum": 28.0, "type": "quantitative", "axis": null, "title": null},
       "x2": {"datum": 28.98},
       "y": {"field": "p", "type": "quantitative", "scale": {"domain":[-0.0076,0.0051],"range":[199,153],"zero":false,"nice":false}, "axis": null, "title": null},
       "color": {"field": "k", "type": "nominal", "scale": {"domain":["hist","sig","neg"],"range":["#22dd22","#ffffff","#e8262a"]}, "legend": null}}},
    {"data": {"name": "hosctags"}, "mark": {"type": "text", "fontSize": 3.2, "align": "left", "baseline": "middle", "dx": 1},
     "encoding": {
       "x": {"datum": 28.0, "type": "quantitative", "axis": null, "title": null},
       "y": {"field": "p", "type": "quantitative", "scale": {"domain":[-0.0076,0.0051],"range":[199,153],"zero":false,"nice":false}, "axis": null, "title": null},
       "text": {"field": "txt"},
       "color": {"field": "k", "type": "nominal", "scale": {"domain":["hist","sig","neg"],"range":["#333333","#333333","#ffffff"]}, "legend": null}}}
   ]}
]
}
